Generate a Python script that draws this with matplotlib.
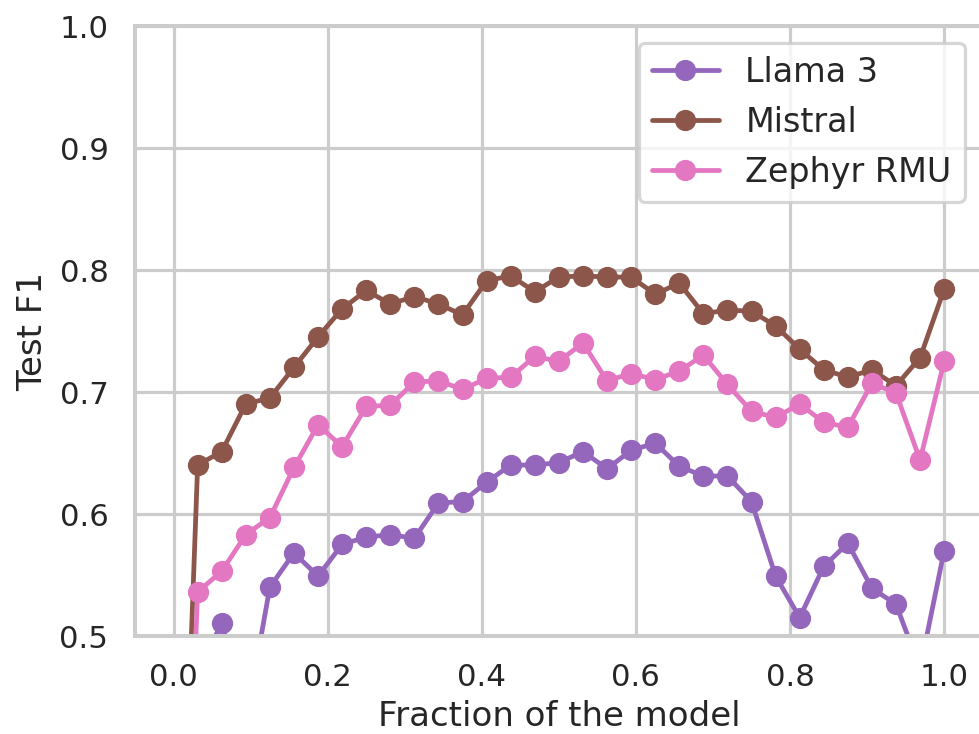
import matplotlib
matplotlib.use("Agg")
import matplotlib.pyplot as plt
import numpy as np
import seaborn as sns

# layer fraction k/32, k = 0..32
fraction = np.arange(33) / 32

llama3 = [0.10, 0.468, 0.511, 0.43, 0.540, 0.568, 0.549, 0.575, 0.581, 0.583,
          0.580, 0.609, 0.610, 0.626, 0.640, 0.640, 0.642, 0.651, 0.637, 0.652,
          0.658, 0.639, 0.631, 0.631, 0.610, 0.549, 0.515, 0.557, 0.576, 0.539,
          0.526, 0.473, 0.570]
mistral = [0.10, 0.640, 0.651, 0.690, 0.695, 0.720, 0.745, 0.768, 0.783, 0.772,
           0.778, 0.772, 0.763, 0.791, 0.795, 0.782, 0.794, 0.795, 0.794, 0.794,
           0.780, 0.789, 0.764, 0.767, 0.766, 0.754, 0.735, 0.718, 0.712, 0.718,
           0.705, 0.728, 0.784]
zephyr_rmu = [0.05, 0.536, 0.553, 0.583, 0.597, 0.638, 0.673, 0.655, 0.688, 0.689,
              0.708, 0.709, 0.702, 0.711, 0.712, 0.729, 0.725, 0.740, 0.709, 0.715,
              0.710, 0.717, 0.730, 0.706, 0.684, 0.679, 0.690, 0.675, 0.671, 0.707,
              0.699, 0.644, 0.725]

series = [("Llama 3", llama3, "tab:purple"),
          ("Mistral", mistral, "tab:brown"),
          ("Zephyr RMU", zephyr_rmu, "tab:pink")]

sns.set_theme(style="whitegrid", context="talk")

fig = plt.figure(figsize=(6.4, 4.8), dpi=153)
W, H = 979, 734
ax = fig.add_axes([135 / W, (H - 636) / H, (982.5 - 135) / W, (636 - 26) / H])

for name, vals, color in series:
    ax.plot(fraction, vals, marker="o", color=color, label=name)

ax.set_xlim(-0.05, 1.05)
ax.set_ylim(0.5, 1.0)
ax.set_xticks(np.arange(0, 1.01, 0.2))
ax.set_yticks(np.arange(0.5, 1.01, 0.1))
ax.tick_params(labelsize=14.5)
ax.set_xlabel("Fraction of the model", fontsize=16, labelpad=4)
ax.set_ylabel("Test F1", fontsize=16, labelpad=5)
ax.legend(loc="upper right", bbox_to_anchor=(0.979, 0.972), borderaxespad=0,
          fontsize=15.7)

fig.savefig("out.png", dpi=153)
